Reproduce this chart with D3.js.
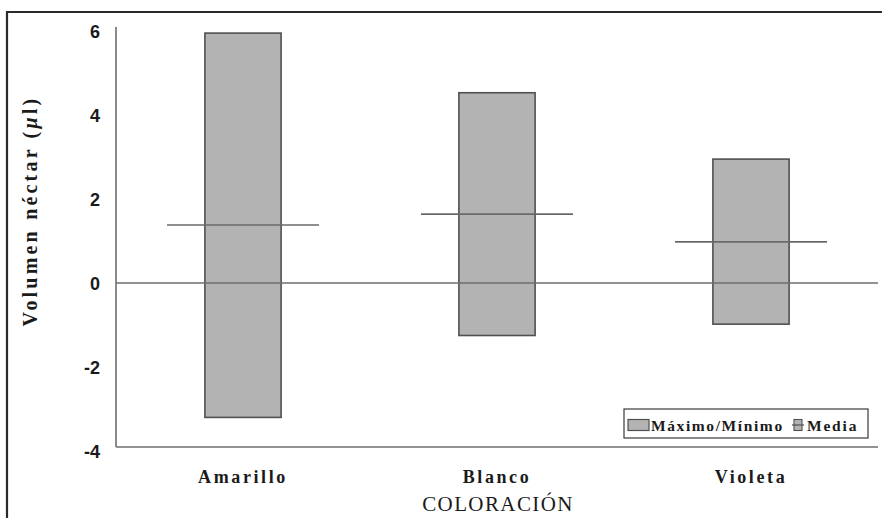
<!DOCTYPE html>
<html>
<head>
<meta charset="utf-8">
<script src="https://cdn.jsdelivr.net/npm/d3@7"></script>
<style>
  html, body { margin: 0; padding: 0; background: #fff; }
  svg { display: block; }
</style>
</head>
<body>
<svg id="chart" width="882" height="518"></svg>
<script>
// ---- data ----
const categories = ["Amarillo", "Blanco", "Violeta"];
const maxValues  = [5.95, 4.53, 2.95];
const minValues  = [-3.2, -1.25, -0.98];
const meanValues = [1.38, 1.64, 0.98];
const yTicks     = [-4, -2, 0, 2, 4, 6];
const yTitle     = "Volumen néctar (";
const xTitle     = "COLORACIÓN";
const legendLabels = ["Máximo/Mínimo", "Media"];

// ---- layout ----
const svg = d3.select("#chart");
const plotLeft = 116, plotRight = 878, plotTop = 27, plotBottom = 447;

const x = d3.scaleBand().domain(categories).range([plotLeft, plotRight]).paddingInner(0.7).paddingOuter(0.35);
const y = d3.scaleLinear().domain([-4, 6]).range([451, 31]);

const serif = "'Liberation Serif', 'Times New Roman', serif";
const sans = "'Liberation Sans', Arial, sans-serif";

// outer frame (top and left edges visible)
svg.append("path")
  .attr("d", "M7,518 V12 H882")
  .attr("fill", "none").attr("stroke", "#2a2a2a").attr("stroke-width", 2.2);

// bars (min -> max)
const bw = x.bandwidth();
svg.append("g").selectAll("rect").data(categories).join("rect")
  .attr("x", d => x(d))
  .attr("y", (d, i) => y(maxValues[i]))
  .attr("width", bw)
  .attr("height", (d, i) => y(minValues[i]) - y(maxValues[i]))
  .attr("fill", "#b3b3b3")
  .attr("stroke", "#505050")
  .attr("stroke-width", 1.6);

// zero line
svg.append("line")
  .attr("x1", plotLeft).attr("x2", plotRight)
  .attr("y1", y(0)).attr("y2", y(0))
  .attr("stroke", "#6e6e6e").attr("stroke-width", 1.5);

// mean lines
svg.append("g").selectAll("line").data(categories).join("line")
  .attr("x1", d => x(d) + bw / 2 - 76)
  .attr("x2", d => x(d) + bw / 2 + 76)
  .attr("y1", (d, i) => y(meanValues[i]))
  .attr("y2", (d, i) => y(meanValues[i]))
  .attr("stroke", "#6a6a6a").attr("stroke-width", 1.6);

// y axis
const yAxis = d3.axisLeft(y).tickValues(yTicks).tickSize(0).tickPadding(16).tickFormat(d => String(d));
const gy = svg.append("g").attr("transform", `translate(${plotLeft},0)`).call(yAxis);
gy.select(".domain").remove();
gy.selectAll("text")
  .attr("font-family", sans).attr("font-weight", "bold").attr("font-size", 18)
  .attr("fill", "#1a1a1a").attr("dy", "0.36em");
svg.append("line")
  .attr("x1", plotLeft).attr("x2", plotLeft).attr("y1", plotTop).attr("y2", plotBottom)
  .attr("stroke", "#6e6e6e").attr("stroke-width", 1.6);

// x axis
const xAxis = d3.axisBottom(x).tickSize(0).tickPadding(23);
const gx = svg.append("g").attr("transform", `translate(0,${plotBottom})`).call(xAxis);
gx.select(".domain").remove();
gx.selectAll("text")
  .attr("font-family", serif).attr("font-weight", "bold").attr("font-size", 18)
  .attr("letter-spacing", "2.6px").attr("fill", "#1a1a1a");
svg.append("line")
  .attr("x1", plotLeft).attr("x2", plotRight).attr("y1", plotBottom).attr("y2", plotBottom)
  .attr("stroke", "#6e6e6e").attr("stroke-width", 1.6);

// x title
svg.append("text")
  .attr("x", 498).attr("y", 511)
  .attr("text-anchor", "middle")
  .attr("font-family", serif).attr("font-size", 21)
  .attr("letter-spacing", "1.4px").attr("fill", "#1a1a1a")
  .text(xTitle);

// y title
const yt = svg.append("text")
  .attr("transform", "translate(37,211) rotate(-90)")
  .attr("text-anchor", "middle")
  .attr("font-family", serif).attr("font-weight", "bold").attr("font-size", 20)
  .attr("letter-spacing", "3.2px").attr("fill", "#1a1a1a");
yt.append("tspan").text(yTitle);
yt.append("tspan").attr("font-style", "italic").text("μ");
yt.append("tspan").text("l)");

// legend
const lg = svg.append("g");
lg.append("rect").attr("x", 624).attr("y", 409).attr("width", 244).attr("height", 29)
  .attr("fill", "#fff").attr("stroke", "#3a3a3a").attr("stroke-width", 1.2);
lg.append("rect").attr("x", 628).attr("y", 419.5).attr("width", 21).attr("height", 11)
  .attr("fill", "#b3b3b3").attr("stroke", "#505050").attr("stroke-width", 1.2);
lg.append("text").attr("x", 651).attr("y", 431)
  .attr("font-family", serif).attr("font-weight", "bold").attr("font-size", 15.5)
  .attr("letter-spacing", "1.6px").attr("fill", "#1a1a1a").text(legendLabels[0]);
lg.append("rect").attr("x", 794).attr("y", 419.5).attr("width", 8).attr("height", 11)
  .attr("fill", "#b3b3b3").attr("stroke", "#505050").attr("stroke-width", 1.1);
lg.append("line").attr("x1", 792).attr("x2", 804).attr("y1", 425).attr("y2", 425)
  .attr("stroke", "#505050").attr("stroke-width", 1.2);
lg.append("text").attr("x", 807).attr("y", 431)
  .attr("font-family", serif).attr("font-weight", "bold").attr("font-size", 15.5)
  .attr("letter-spacing", "1.8px").attr("fill", "#1a1a1a").text(legendLabels[1]);
</script>
</body>
</html>
